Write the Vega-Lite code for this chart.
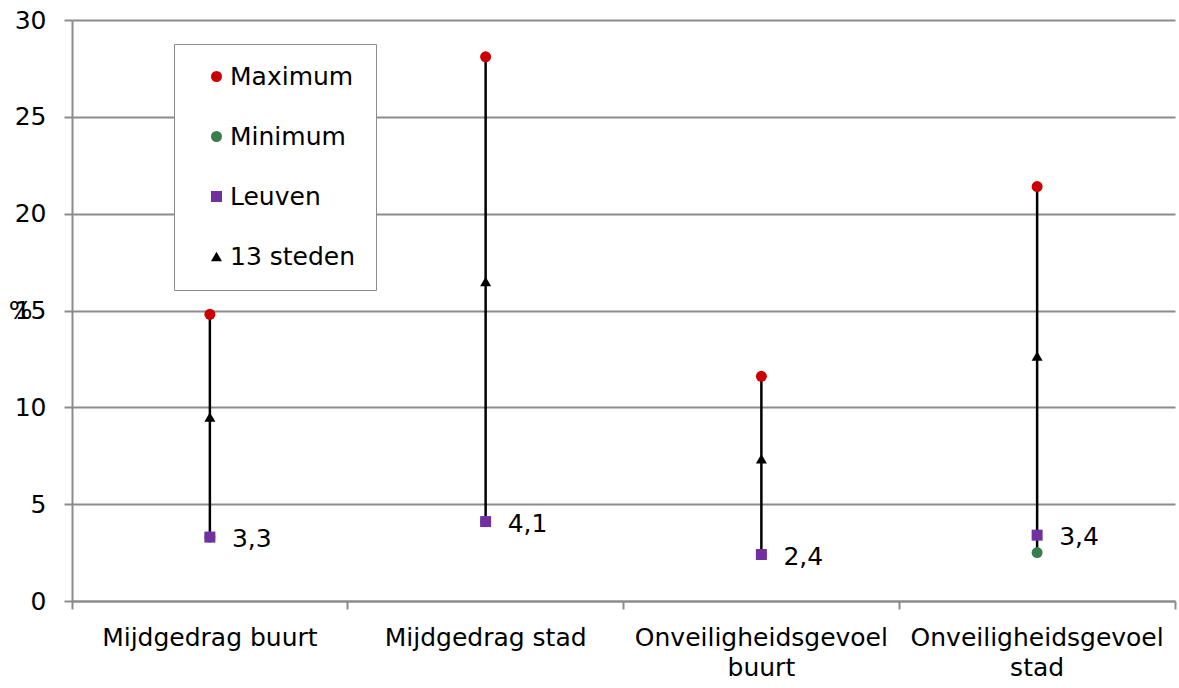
{
  "$schema": "https://vega.github.io/schema/vega-lite/v6.json",
  "width": 1103,
  "height": 581,
  "autosize": {"type": "none"},
  "padding": {"left": 72, "top": 20, "right": 4, "bottom": 87},
  "background": "white",
  "config": {
    "view": {"stroke": null},
    "font": "DejaVu Sans",
    "locale": {"number": {"decimal": ",", "thousands": ".", "grouping": [3], "currency": ["€", ""]}}
  },
  "data": {
    "values": [
      {"category": "Mijdgedrag buurt", "series": "Maximum", "value": 14.8},
      {"category": "Mijdgedrag buurt", "series": "Minimum", "value": 3.3},
      {"category": "Mijdgedrag buurt", "series": "13 steden", "value": 9.5},
      {"category": "Mijdgedrag buurt", "series": "Leuven", "value": 3.3},
      {"category": "Mijdgedrag stad", "series": "Maximum", "value": 28.1},
      {"category": "Mijdgedrag stad", "series": "Minimum", "value": 4.1},
      {"category": "Mijdgedrag stad", "series": "13 steden", "value": 16.5},
      {"category": "Mijdgedrag stad", "series": "Leuven", "value": 4.1},
      {"category": "Onveiligheidsgevoel buurt", "series": "Maximum", "value": 11.6},
      {"category": "Onveiligheidsgevoel buurt", "series": "Minimum", "value": 2.4},
      {"category": "Onveiligheidsgevoel buurt", "series": "13 steden", "value": 7.35},
      {"category": "Onveiligheidsgevoel buurt", "series": "Leuven", "value": 2.4},
      {"category": "Onveiligheidsgevoel stad", "series": "Maximum", "value": 21.4},
      {"category": "Onveiligheidsgevoel stad", "series": "Minimum", "value": 2.5},
      {"category": "Onveiligheidsgevoel stad", "series": "13 steden", "value": 12.65},
      {"category": "Onveiligheidsgevoel stad", "series": "Leuven", "value": 3.4}
    ]
  },
  "encoding": {
    "x": {
      "field": "category",
      "type": "nominal",
      "sort": null,
      "scale": {"paddingInner": 0, "paddingOuter": 0},
      "axis": {
        "title": null,
        "labelAngle": 0,
        "labelFontSize": 25,
        "labelColor": "black",
        "labelPadding": 16,
        "labelLineHeight": 30,
        "labelExpr": "length(datum.label) > 18 ? split(datum.label, ' ') : datum.label",
        "labelLimit": 400,
        "bandPosition": 1,
        "tickExtra": true,
        "tickSize": 8,
        "tickColor": "#8c8c8c",
        "tickWidth": 2,
        "domainColor": "#8c8c8c",
        "domainWidth": 2,
        "grid": false
      }
    },
    "y": {
      "field": "value",
      "type": "quantitative",
      "scale": {"domain": [0, 30], "nice": false},
      "axis": {
        "values": [0, 5, 10, 15, 20, 25, 30],
        "title": "%",
        "titleAngle": 0,
        "titleFontSize": 25,
        "titleFontWeight": "normal",
        "titleColor": "black",
        "titleX": -52,
        "titleY": 290,
        "titleAlign": "center",
        "titleBaseline": "middle",
        "labelFontSize": 25,
        "labelColor": "black",
        "labelPadding": 18,
        "tickSize": 8,
        "tickColor": "#8c8c8c",
        "tickWidth": 2,
        "domainColor": "#8c8c8c",
        "domainWidth": 2,
        "grid": true,
        "gridColor": "#8c8c8c",
        "gridWidth": 2
      }
    }
  },
  "layer": [
    {
      "mark": {"type": "rule", "color": "black", "strokeWidth": 2.5},
      "encoding": {
        "y": {"aggregate": "min", "field": "value", "type": "quantitative"},
        "y2": {"aggregate": "max", "field": "value"}
      }
    },
    {
      "mark": {"type": "point", "filled": true, "opacity": 1},
      "encoding": {
        "color": {
          "field": "series",
          "type": "nominal",
          "scale": {"domain": ["Maximum", "Minimum", "Leuven", "13 steden"], "range": ["#cc0000", "#3a7d4c", "#7030a0", "black"]},
          "legend": {
            "title": null,
            "orient": "none",
            "legendX": 102,
            "legendY": 24,
            "padding": 20,
            "symbolOffset": 10,
            "labelOffset": 1,
            "labelFontSize": 25,
            "labelColor": "black",
            "rowPadding": 34,
            "strokeColor": "#8c8c8c",
            "fillColor": "white"
          }
        },
        "shape": {
          "field": "series",
          "type": "nominal",
          "scale": {"domain": ["Maximum", "Minimum", "Leuven", "13 steden"], "range": ["circle", "circle", "square", "triangle-up"]}
        },
        "size": {
          "field": "series",
          "type": "nominal",
          "scale": {"domain": ["Maximum", "Minimum", "Leuven", "13 steden"], "range": [121, 121, 196, 110]}
        }
      }
    },
    {
      "transform": [{"filter": "datum.series == 'Leuven'"}],
      "mark": {"type": "text", "align": "left", "baseline": "middle", "dx": 22, "dy": 2, "fontSize": 25, "color": "black"},
      "encoding": {
        "text": {"field": "value", "type": "quantitative", "format": ".1f"}
      }
    }
  ]
}
